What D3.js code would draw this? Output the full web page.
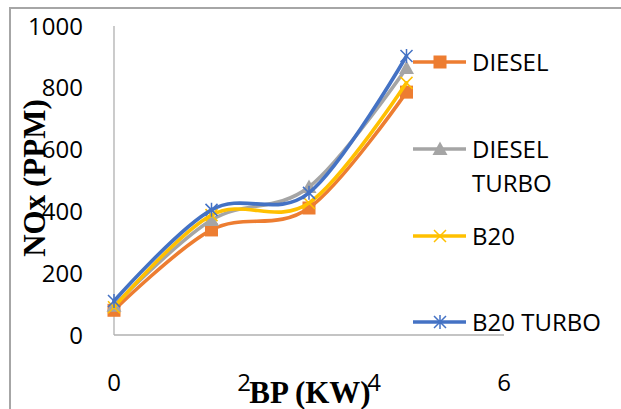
<!DOCTYPE html>
<html><head><meta charset="utf-8">
<script src="https://cdn.jsdelivr.net/npm/d3@7"></script>
<style>body{margin:0;background:#fff}svg{display:block}</style>
</head><body>
<svg id="c" width="621" height="409"></svg>
<script>
const xValues = [0, 1.5, 3, 4.5];
const diesel = [80, 340, 411, 786];
const dieselTurbo = [95, 372, 479, 864];
const b20 = [90, 388, 427, 816];
const b20Turbo = [110, 405, 460, 903];
const seriesNames = ["DIESEL", "DIESEL TURBO", "B20", "B20 TURBO"];
const xTicks = [0, 2, 4, 6];
const yTicks = [0, 200, 400, 600, 800, 1000];
const xTitle = "BP (KW)";
const yTitle = "NOx (PPM)";

const colors = ["#ED7D31", "#A5A5A5", "#FFC000", "#4472C4"];
const markers = ["square", "triangle", "x", "star"];
const seriesData = [diesel, dieselTurbo, b20, b20Turbo];

const svg = d3.select("#c");
const x = d3.scaleLinear().domain([0, 6]).range([114, 504]);
const y = d3.scaleLinear().domain([0, 1000]).range([335, 26]);

// outer frame
svg.append("path").attr("d", "M10,409 L10,8 L621,8")
  .attr("fill", "none").attr("stroke", "#A6A6A6").attr("stroke-width", 2);

// axes lines
svg.append("line").attr("x1", x(0)).attr("x2", x(0)).attr("y1", y(1000)).attr("y2", y(0))
  .attr("stroke", "#B0B0B0").attr("stroke-width", 1.3);
svg.append("line").attr("x1", x(0)).attr("x2", x(6)).attr("y1", y(0)).attr("y2", y(0))
  .attr("stroke", "#B0B0B0").attr("stroke-width", 1.3);

const tickFont = "'Open Sans', sans-serif";
svg.append("g").selectAll("text").data(yTicks).join("text")
  .attr("x", 83).attr("y", d => y(d)).attr("dy", "0.36em")
  .attr("text-anchor", "end").attr("font-family", tickFont).attr("font-size", 24)
  .attr("fill", "#000").text(d => d);
svg.append("g").selectAll("text").data(xTicks).join("text")
  .attr("x", d => x(d)).attr("y", 382).attr("dy", "0.36em")
  .attr("text-anchor", "middle").attr("font-family", tickFont).attr("font-size", 24)
  .attr("fill", "#000").text(d => d);

// axis titles
const titleFont = "'Liberation Serif', 'Times New Roman', serif";
svg.append("text").attr("x", 310).attr("y", 403).attr("text-anchor", "middle")
  .attr("font-family", titleFont).attr("font-weight", "bold").attr("font-size", 31)
  .text(xTitle);
svg.append("text").attr("transform", "translate(45,178) rotate(-90)").attr("text-anchor", "middle")
  .attr("font-family", titleFont).attr("font-weight", "bold").attr("font-size", 31)
  .text(yTitle);

function drawMarker(g, type, cx, cy, color) {
  if (type === "square") {
    g.append("rect").attr("x", cx - 6.5).attr("y", cy - 6.5).attr("width", 13).attr("height", 13).attr("fill", color);
  } else if (type === "triangle") {
    g.append("path").attr("d", `M${cx},${cy - 7.5} L${cx + 7.5},${cy + 6} L${cx - 7.5},${cy + 6} Z`).attr("fill", color);
  } else if (type === "x") {
    g.append("path").attr("d", `M${cx - 6},${cy - 6} L${cx + 6},${cy + 6} M${cx - 6},${cy + 6} L${cx + 6},${cy - 6}`)
      .attr("stroke", color).attr("stroke-width", 1.5);
  } else {
    g.append("path").attr("d", `M${cx - 6},${cy - 6} L${cx + 6},${cy + 6} M${cx - 6},${cy + 6} L${cx + 6},${cy - 6} M${cx},${cy - 7} L${cx},${cy + 7}`)
      .attr("stroke", color).attr("stroke-width", 1.5);
  }
}

const line = d3.line().x(d => x(d[0])).y(d => y(d[1])).curve(d3.curveCatmullRom.alpha(0));
seriesData.forEach((vals, i) => {
  const pts = xValues.map((xv, j) => [xv, vals[j]]);
  const g = svg.append("g");
  g.append("path").attr("d", line(pts)).attr("fill", "none")
    .attr("stroke", colors[i]).attr("stroke-width", 3.6).attr("stroke-linecap", "round");
  pts.forEach(p => drawMarker(g, markers[i], x(p[0]), y(p[1]), colors[i]));
});

// legend
const legendY = [62, 149, 236, 322];
seriesNames.forEach((name, i) => {
  const g = svg.append("g");
  g.append("line").attr("x1", 413).attr("x2", 466).attr("y1", legendY[i]).attr("y2", legendY[i])
    .attr("stroke", colors[i]).attr("stroke-width", 3.6);
  drawMarker(g, markers[i], 440, legendY[i], colors[i]);
  const t = g.append("text").attr("x", 472).attr("y", legendY[i]).attr("dy", "0.36em")
    .attr("font-family", tickFont).attr("font-size", 24).attr("fill", "#000");
  if (name === "DIESEL TURBO") {
    t.append("tspan").attr("x", 472).text("DIESEL");
    t.append("tspan").attr("x", 472).attr("dy", 34).text("TURBO");
  } else {
    t.text(name);
  }
});
</script>
</body></html>
